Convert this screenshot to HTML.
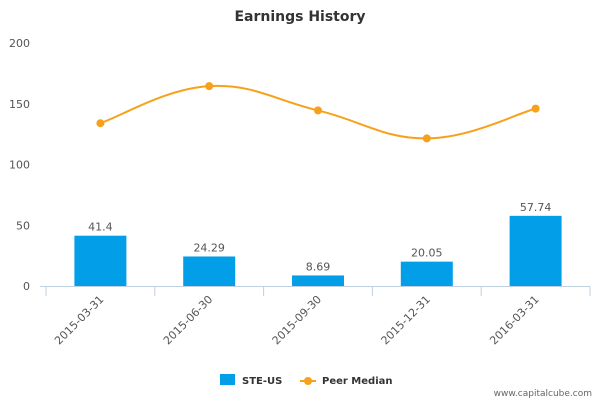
<!DOCTYPE html>
<html><head><meta charset="utf-8"><style>
body{margin:0;background:#fff;}
svg{display:block;font-family:"DejaVu Sans","Liberation Sans",sans-serif;}
</style></head><body>
<svg id="chart" width="600" height="400">
<text x="300" y="21" text-anchor="middle" font-size="14" font-weight="bold" fill="#333">Earnings History</text>
<g id="grid"></g><g id="bars"></g><g id="line"></g><g id="xlabels"></g>
<g>
<rect x="220" y="374" width="15" height="11" fill="#029fe8"/>
<text x="242" y="384" font-size="10" font-weight="bold" fill="#333">STE-US</text>
<line x1="300" y1="381" x2="316" y2="381" stroke="#f7a11a" stroke-width="2"/>
<circle cx="308" cy="381" r="4" fill="#f7a11a"/>
<text x="322" y="384" font-size="10" font-weight="bold" fill="#333">Peer Median</text>
</g>
<text x="592" y="396" text-anchor="end" font-size="9" fill="#666">www.capitalcube.com</text>
</svg>
<script>
const categories=["2015-03-31","2015-06-30","2015-09-30","2015-12-31","2016-03-31"];
const steValues=[41.4,24.29,8.69,20.05,57.74];
const steLabels=["41.4","24.29","8.69","20.05","57.74"];
const peerValues=[134,164.5,144.5,121.5,146];
const yTicks=[0,50,100,150,200];
const NS="http://www.w3.org/2000/svg";
const x0=46,x1=590,yb=286,yt=43,ymax=200;
const band=(x1-x0)/categories.length;
const xc=i=>x0+band*(i+0.5);
const y=v=>yb-(v/ymax)*(yb-yt);
function mk(t,a,p){const e=document.createElementNS(NS,t);for(const k in a)e.setAttribute(k,a[k]);p.appendChild(e);return e;}
const g=document.getElementById('grid');
yTicks.forEach(v=>{const t=mk('text',{x:30,y:y(v)+4,'text-anchor':'end','font-size':11,fill:'#555'},g);t.textContent=v;

});
const ax=mk('line',{x1:x0-6,y1:yb+0.5,x2:x1,y2:yb+0.5,stroke:'#c0d0e0'},g);


for(let i=0;i<=categories.length;i++){mk('line',{x1:x0+band*i,y1:yb,x2:x0+band*i,y2:yb+10,stroke:'#c0d0e0'},g);}
const b=document.getElementById('bars');
steValues.forEach((v,i)=>{const r=mk('rect',{x:xc(i)-26,y:y(v),width:52,height:yb-y(v),fill:'#029fe8'},b);


const t=mk('text',{x:xc(i),y:y(v)-5,'text-anchor':'middle','font-size':11,fill:'#555'},b);t.textContent=steLabels[i];

});
const L=document.getElementById('line');
const pts=peerValues.map((v,i)=>[xc(i),y(v)]);
let d='M'+pts[0].join(',');
for(let i=0;i<pts.length-1;i++){const p0=pts[Math.max(i-1,0)],p1=pts[i],p2=pts[i+1],p3=pts[Math.min(i+2,pts.length-1)];const k=0.2;
d+=' C'+(p1[0]+(p2[0]-p0[0])*k)+','+(p1[1]+(p2[1]-p0[1])*k)+' '+(p2[0]-(p3[0]-p1[0])*k)+','+(p2[1]-(p3[1]-p1[1])*k)+' '+p2[0]+','+p2[1];}
const path=mk('path',{d:d,fill:'none',stroke:'#f7a11a','stroke-width':2},L);


pts.forEach((p,i)=>{const c=mk('circle',{cx:p[0],cy:p[1],r:4,fill:'#f7a11a'},L);

});
const X=document.getElementById('xlabels');
categories.forEach((c,i)=>{const t=mk('text',{x:xc(i)+4,y:yb+14,'text-anchor':'end','font-size':11,fill:'#555',transform:'rotate(-45 '+(xc(i)+4)+' '+(yb+14)+')'},X);t.textContent=c;

});
</script>
</body></html>
